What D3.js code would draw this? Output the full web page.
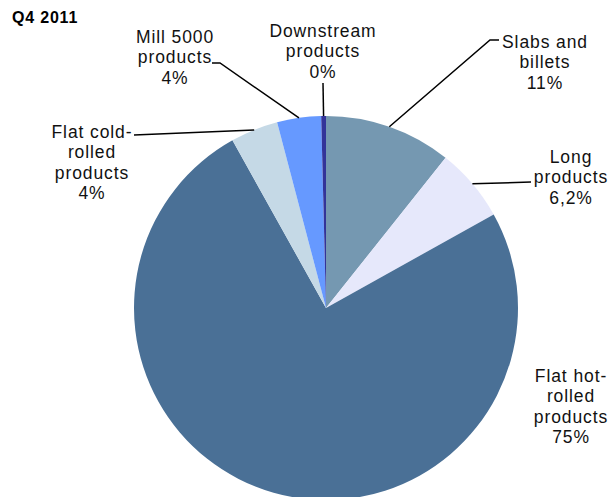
<!DOCTYPE html>
<html>
<head>
<meta charset="utf-8">
<script src="https://cdn.jsdelivr.net/npm/d3@7"></script>
<style>
  body { margin: 0; background: #fff; }
  svg { display: block; font-family: "Liberation Sans", Arial, sans-serif; }
</style>
</head>
<body>
<div id="chart"></div>
<script>
// Data
const categories = ['Slabs and billets', 'Long products', 'Flat hot-rolled products',
                    'Flat cold-rolled products', 'Mill 5000 products', 'Downstream products'];
const shares = [10.7, 6.2, 75, 4, 3.7, 0.4];
const shareLabels = ['11%', '6,2%', '75%', '4%', '4%', '0%'];
const labelLines = [
    ['Slabs and', 'billets'],
    ['Long', 'products'],
    ['Flat hot-', 'rolled', 'products'],
    ['Flat cold-', 'rolled', 'products'],
    ['Mill 5000', 'products'],
    ['Downstream', 'products']
];
const colors = ['#7598B1', '#E6E8FB', '#4A7096', '#C5D9E6', '#6699FF', '#333399'];

// Layout of labels (center x, first baseline y, leader line end)
const labelPos = [
    { x: 545, y: 48, lx: 499, ly: 40, bend: 490 },
    { x: 571, y: 163, lx: 531, ly: 182, bend: null },
    { x: 571, y: 382, lx: null, ly: null },
    { x: 92, y: 138, lx: 134, ly: 135, bend: null },
    { x: 175, y: 43, lx: 212, ly: 63, bend: 220 },
    { x: 323, y: 37, lx: 323, ly: 83, bend: null }
];

const width = 614, height = 497;
const cx = 326, cy = 308, radius = 192;
const lineH = 20.3;

const svg = d3.select('#chart').append('svg')
    .attr('width', width)
    .attr('height', height);

svg.append('text')
    .attr('x', 12)
    .attr('y', 23)
    .attr('font-size', 16)
    .attr('font-weight', 'bold')
    .attr('letter-spacing', 0.8)
    .text('Q4 2011');

const pie = d3.pie().sort(null).value(d => d);
const arcs = pie(shares);
const arc = d3.arc().innerRadius(0).outerRadius(radius);

const g = svg.append('g').attr('transform', `translate(${cx},${cy})`);

g.selectAll('path')
    .data(arcs)
    .enter()
    .append('path')
    .attr('d', arc)
    .attr('fill', (d, i) => colors[i]);

// Leader lines
const edge = d3.arc().innerRadius(radius).outerRadius(radius);
arcs.forEach((d, i) => {
    const p = labelPos[i];
    if (p.lx === null) return;
    const [ex, ey] = edge.centroid(d);
    const pts = [[cx + ex, cy + ey]];
    if (p.bend !== null) pts.push([p.bend, p.ly]);
    pts.push([p.lx, p.ly]);
    svg.append('path')
        .attr('d', d3.line()(pts))
        .attr('fill', 'none')
        .attr('stroke', '#000')
        .attr('stroke-width', 1.5);
});

// Labels
arcs.forEach((d, i) => {
    const p = labelPos[i];
    const lines = labelLines[i].concat([shareLabels[i]]);
    const t = svg.append('text')
        .attr('text-anchor', 'middle')
        .attr('font-size', 17.5)
        .attr('letter-spacing', 0.9)
        .attr('fill', '#111');
    lines.forEach((s, j) => {
        t.append('tspan')
            .attr('x', p.x)
            .attr('y', p.y + j * lineH)
            .text(s);
    });
});
</script>
</body>
</html>
